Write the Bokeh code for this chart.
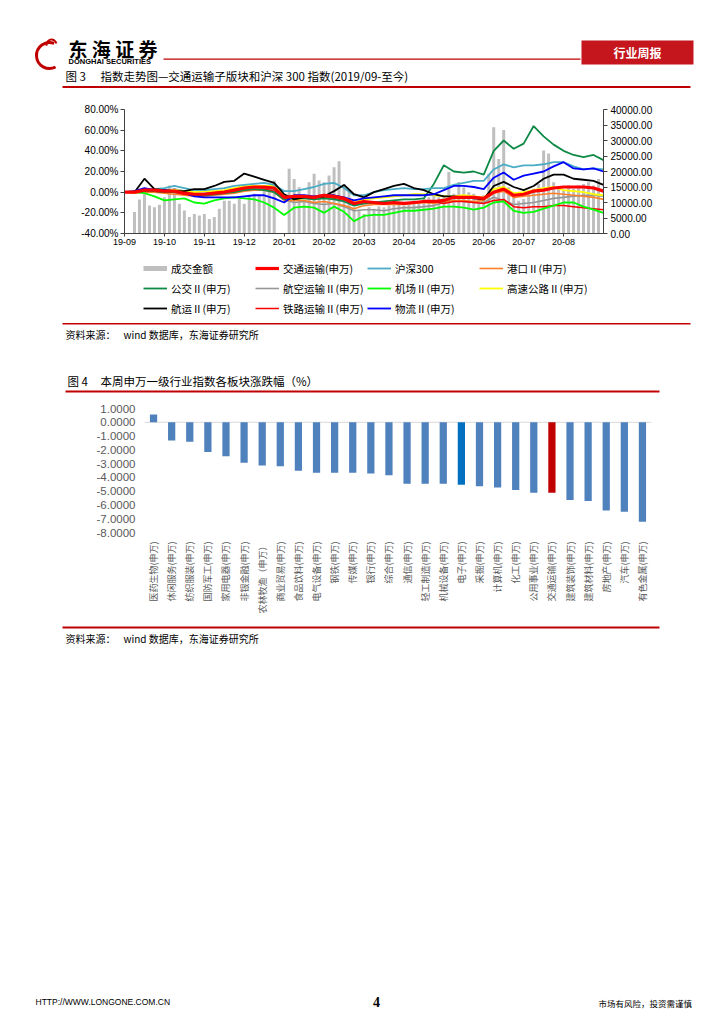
import math
import numpy as np
from bokeh.plotting import figure
from bokeh.models import (Range1d, LinearAxis, FixedTicker, PrintfTickFormatter, Legend,
                          LegendItem, Label, BoxAnnotation, Span, FactorRange, ColumnDataSource)
from bokeh.embed import file_html
from bokeh.resources import INLINE

# ------------------------------------------------------------------ data
month_labels = ["19-09", "19-10", "19-11", "19-12", "20-01", "20-02",
                "20-03", "20-04", "20-05", "20-06", "20-07", "20-08"]
# positions in months since 2019-09 (weekly-ish sampling)
line_x = [i / 4 for i in range(49)]
vol_x = [0.25 + i / 8 for i in range(94)]

turnover = [6900, 11000, 13000, 9000, 8500, 9300, 11700, 15500, 14700, 9600,
            7400, 5300, 6300, 5800, 6300, 4700, 5300, 8000, 10600, 10600,
            9600, 11200, 9600, 12300, 12800, 12300, 13900, 15500, 17100, 0,
            0, 20900, 17600, 14900, 10600, 16500, 19300, 17100, 16500, 18700,
            21400, 23300, 16000, 13900, 8500, 7400, 6300, 8500, 8000, 8700,
            8500, 9000, 9300, 9600, 9000, 10100, 10600, 10100, 11200, 11700,
            12800, 11700, 12300, 19800, 12800, 16600, 14900, 13300, 12800, 11700,
            12300, 19300, 34300, 24000, 33400, 14900, 13300, 10600, 11200, 12800,
            14400, 16000, 26800, 25800, 16500, 14900, 13900, 15500, 14400, 15500,
            16000, 16500, 15500, 17600]

s_jiaotong = [0, 0, 2, 2, 1, 1, -1, -2, -2, -1, 0, 2, 4, 5, 5, 4,
              -5, -4, -4, -5, -3, -4, -6, -11, -9, -10, -11, -10, -11, -10, -9, -9,
              -8, -5, -5, -5, -6, 0, 3, -3, -2, 1, 2, 4, 5, 5, 5, 4, 1]
s_hs300 = [0, 1, 3, 3, 4, 6, 4, 2, 2, 3, 4, 6, 7, 8, 9, 7,
           1, 1, 3, 5, 8, 9, 4, -3, -3, 0, 2, 3, 4, 3, 3, 4,
           4, 7, 9, 11, 11, 22, 27, 24, 26, 26, 27, 29, 29, 25, 22, 23, 22]
s_gangkou = [0, -1, 0, 0, -1, -2, -3, -4, -4, -3, -2, -1, 1, 2, 2, 0,
             -8, -8, -8, -10, -9, -11, -13, -16, -13, -12, -12, -12, -12, -11, -10, -11,
             -9, -8, -8, -9, -8, -1, 1, -5, -4, -3, -2, -1, -2, -3, -4, -5, -7]
s_gongjiao = [0, 0, 1, 1, 0, 0, -1, -3, -3, -2, -1, 0, 2, 3, 2, 0,
              -7, -6, -6, -7, -6, -7, -9, -13, -11, -10, -9, -8, -7, -7, -6, 8,
              26, 20, 19, 20, 17, 40, 50, 42, 47, 64, 54, 46, 40, 36, 34, 36, 31]
s_hangkong = [0, 0, 1, 1, 1, 3, 1, -1, -1, 0, 1, 3, 4, 5, 4, 2,
              -7, -10, -9, -11, -12, -11, -14, -18, -17, -17, -18, -16, -15, -15, -14, -13,
              -10, -8, -9, -10, -10, -5, -8, -12, -11, -10, -8, -6, -5, -4, -3, -3, -4]
s_jichang = [0, 0, -1, -4, -8, -7, -6, -10, -11, -8, -6, -5, -6, -7, -10, -15,
             -22, -15, -14, -15, -20, -14, -19, -28, -23, -22, -22, -20, -18, -18, -17, -16,
             -14, -14, -15, -17, -15, -10, -9, -18, -20, -19, -16, -13, -10, -10, -14, -17, -20]
s_gaosu = [0, 1, 2, 3, 2, 2, 1, 0, 1, 1, 2, 4, 6, 6, 6, 6,
           -3, -7, -6, -5, -4, -4, -6, -10, -7, -6, -5, -4, -3, -2, -2, -3,
           -4, -4, -3, -4, -5, 3, 5, -1, 0, 2, 4, 5, 2, 1, 0, -2, -3]
s_hangyun = [0, 0, 13, 3, 2, 1, 1, 3, 3, 6, 10, 11, 18, 15, 12, 9,
             -2, -7, -5, -5, -4, 1, 7, -2, -5, 0, 3, 6, 8, 4, 2, -2,
             -4, -4, -5, -6, -7, 6, 10, 5, 2, 6, 13, 17, 17, 13, 12, 11, 7]
s_tielu = [0, 0, 1, 1, 0, 0, -2, -3, -3, -2, -1, 1, 2, 3, 3, 1,
           -7, -5, -5, -6, -5, -6, -8, -12, -10, -10, -11, -10, -10, -10, -9, -9,
           -11, -9, -9, -10, -11, -8, -7, -14, -15, -14, -14, -13, -13, -14, -15, -16, -17]
s_wuliu = [0, 1, 4, 2, 2, 1, -1, -4, -5, -5, -5, -5, -4, -3, -3, -6,
           -10, -3, -3, -4, -3, -3, -5, -8, -6, -5, -4, -3, -3, -3, -3, -2,
           2, 6, 6, 5, 3, 14, 19, 12, 16, 18, 20, 25, 29, 23, 22, 23, 20]

industries = ["医药生物(申万)", "休闲服务(申万)", "纺织服装(申万)", "国防军工(申万)",
              "家用电器(申万)", "非银金融(申万)", "农林牧渔（申万）", "商业贸易(申万)",
              "食品饮料(申万)", "电气设备(申万)", "钢铁(申万)", "传媒(申万)", "银行(申万)",
              "综合(申万)", "通信(申万)", "轻工制造(申万)", "机械设备(申万)", "电子(申万)",
              "采掘(申万)", "计算机(申万)", "化工(申万)", "公用事业(申万)", "交通运输(申万)",
              "建筑装饰(申万)", "建筑材料(申万)", "房地产(申万)", "汽车(申万)", "有色金属(申万)"]
industry_change = [0.56, -1.33, -1.41, -2.16, -2.47, -2.93, -3.13, -3.20, -3.52, -3.66,
                   -3.66, -3.66, -3.71, -3.85, -4.46, -4.46, -4.46, -4.53, -4.65, -4.73,
                   -4.92, -5.12, -5.12, -5.65, -5.72, -6.40, -6.50, -7.22]

# ------------------------------------------------------------------ styling helpers
CJK = "Noto Sans CJK SC"
LAT = "Liberation Sans"
W = 724
RED = "#C00000"


def deco(h):
    return figure(width=W, height=h, x_range=Range1d(0, W), y_range=Range1d(0, h),
                  x_axis_type=None, y_axis_type=None, toolbar_location=None,
                  output_backend="svg", min_border=0, outline_line_color=None)


def txt(f, top, px, py, text, size, font=CJK, color="black", style="normal", align="left"):
    f.add_layout(Label(x=px, y=f.height - (py - top), text=text, text_font=font,
                       text_font_size=f"{size}px", text_color=color, text_font_style=style,
                       text_align=align, text_baseline="middle"))


def rule(f, top, x0, x1, y0, y1, color=RED):
    f.add_layout(BoxAnnotation(left=x0, right=x1, bottom=f.height - (y1 - top),
                               top=f.height - (y0 - top), fill_color=color, fill_alpha=1,
                               line_color=None))


# ------------------------------------------------------------------ header (page y 0..100)
T1 = 0
f1 = deco(100)
f1.arc(x=[49], y=[f1.height - 55], radius=13, start_angle=1.2, end_angle=5.2,
       line_color=RED, line_width=3)
f1.arc(x=[51], y=[f1.height - 44], radius=5, start_angle=0.2, end_angle=3.4,
       line_color=RED, line_width=2)
txt(f1, T1, 68, 48, "东 海 证 券", 19, style="bold")
txt(f1, T1, 68, 61, "DONGHAI SECURITIES", 7.5, font=LAT, style="bold")
rule(f1, T1, 163, 580, 58, 59.2)
rule(f1, T1, 581, 693, 40, 64, color="#C4161C")
txt(f1, T1, 637, 52, "行业周报", 12, color="white", style="bold", align="center")
txt(f1, T1, 65, 75, "图 3", 11.5)
txt(f1, T1, 100, 75, "指数走势图—交通运输子版块和沪深 300 指数(2019/09-至今)", 11.5)
rule(f1, T1, 62, 690, 85.5, 87.5)

# ------------------------------------------------------------------ chart 1 (page y 100..252)
p1 = figure(width=W, height=152, x_range=Range1d(0, 12), y_range=Range1d(-40, 80),
            toolbar_location=None, output_backend="svg",
            min_border_left=124, min_border_right=121, min_border_top=9, min_border_bottom=19)
p1.extra_y_ranges = {"vol": Range1d(0, 40000)}
p1.grid.visible = False
p1.outline_line_color = None

p1.vbar(x=vol_x, top=turnover, bottom=0, width=0.075, y_range_name="vol",
        fill_color="#BFBFBF", line_color=None)

series = [
    ("航空运输Ⅱ(申万)", s_hangkong, "#969696", 1.6),
    ("港口Ⅱ(申万)", s_gangkou, "#FF7F27", 1.6),
    ("高速公路Ⅱ(申万)", s_gaosu, "#FFFF00", 1.8),
    ("铁路运输Ⅱ(申万)", s_tielu, "#FF0000", 1.5),
    ("机场Ⅱ(申万)", s_jichang, "#00FF00", 1.8),
    ("公交Ⅱ(申万)", s_gongjiao, "#0E8A47", 1.8),
    ("沪深300", s_hs300, "#4BACC6", 1.8),
    ("航运Ⅱ(申万)", s_hangyun, "#000000", 1.8),
    ("物流Ⅱ(申万)", s_wuliu, "#0000FF", 1.8),
    ("交通运输(申万)", s_jiaotong, "#FF0000", 3.2),
]
style = {"成交金额": ("#BFBFBF", 5)}
for name, vals, col, lw in series:
    p1.line(line_x, vals, line_color=col, line_width=lw)
    style[name] = (col, lw)

ax_l = p1.yaxis[0]
ax_l.ticker = FixedTicker(ticks=list(range(-40, 81, 20)), minor_ticks=[])
ax_l.formatter = PrintfTickFormatter(format="%.2f%%")
ax_r = LinearAxis(y_range_name="vol",
                  ticker=FixedTicker(ticks=list(range(0, 40001, 5000)), minor_ticks=[]),
                  formatter=PrintfTickFormatter(format="%.2f"))
p1.add_layout(ax_r, "right")
ax_b = p1.xaxis[0]
ax_b.ticker = FixedTicker(ticks=list(range(12)), minor_ticks=[])
ax_b.major_label_overrides = {i: lab for i, lab in enumerate(month_labels)}

for ax in (ax_l, ax_r, ax_b):
    ax.axis_line_color = "#404040"
    ax.major_tick_line_color = "#404040"
    ax.major_tick_out = 4
    ax.major_tick_in = 0
    ax.minor_tick_out = 0
    ax.minor_tick_in = 0
    ax.major_label_text_font = LAT
    ax.major_label_text_color = "black"
    ax.major_label_text_font_size = "10px"
    ax.major_label_standoff = 2
ax_b.major_tick_out = 3
ax_b.major_label_text_font_size = "9px"
ax_r.major_label_standoff = 3

# ------------------------------------------------------------------ legend strip (page y 252..322)
legend_order = ["成交金额", "交通运输(申万)", "沪深300", "港口Ⅱ(申万)",
                "公交Ⅱ(申万)", "航空运输Ⅱ(申万)", "机场Ⅱ(申万)", "高速公路Ⅱ(申万)",
                "航运Ⅱ(申万)", "铁路运输Ⅱ(申万)", "物流Ⅱ(申万)"]
fl = figure(width=W, height=70, x_range=Range1d(0, 1), y_range=Range1d(0, 1),
            x_axis_type=None, y_axis_type=None, toolbar_location=None, output_backend="svg",
            min_border_left=143, min_border_top=6, min_border_right=0, min_border_bottom=0,
            outline_line_color=None)
items = []
for n in legend_order:
    col, lw = style[n]
    # legend-only key (no visible data)
    proxy = fl.line(x=np.array([np.nan]), y=np.array([np.nan]), line_color=col, line_width=lw)
    items.append(LegendItem(label=n, renderers=[proxy]))
legend = Legend(items=items, location="top_left", orientation="horizontal", ncols=4,
                glyph_width=24, glyph_height=20, label_height=20, label_width=84,
                label_standoff=4, spacing=0, padding=0, margin=0,
                border_line_color=None, background_fill_alpha=0,
                label_text_font=CJK, label_text_font_size="10.5px", label_text_color="black")
fl.add_layout(legend)

# ------------------------------------------------------------------ middle block (page y 322..400)
T3 = 322
f3 = deco(78)
rule(f3, T3, 62, 690, 322.5, 324)
txt(f3, T3, 65, 334, "资料来源：", 10)
txt(f3, T3, 123, 334, "wind 数据库，东海证券研究所", 10)
txt(f3, T3, 67, 380, "图 4", 11.5)
txt(f3, T3, 100, 380, "本周申万一级行业指数各板块涨跌幅（%）", 11.5)
rule(f3, T3, 65, 659, 390, 392)

# ------------------------------------------------------------------ chart 2 (page y 400..624)
p2 = figure(width=W, height=224, x_range=FactorRange(factors=industries),
            y_range=Range1d(-8, 1), toolbar_location=None, output_backend="svg",
            min_border_left=144, min_border_right=73, min_border_top=8, min_border_bottom=92)
p2.grid.visible = False
p2.outline_line_color = None
highlight = {"电子(申万)": "#0070C0", "交通运输(申万)": "#C00000"}
src = ColumnDataSource(dict(cat=industries, val=industry_change,
                            color=[highlight.get(n, "#4F81BD") for n in industries]))
p2.add_layout(Span(location=0, dimension="width", line_color="#D9D9D9", line_width=1,
                   level="underlay"))
p2.vbar(x="cat", top="val", bottom=0, width=0.4, fill_color="color", line_color=None, source=src)

ay = p2.yaxis[0]
ay.ticker = FixedTicker(ticks=list(range(-8, 2)), minor_ticks=[])
ay.formatter = PrintfTickFormatter(format="%.4f")
ay.axis_line_color = None
ay.major_tick_line_color = None
ay.minor_tick_line_color = None
ay.major_label_text_font = LAT
ay.major_label_text_font_size = "11.5px"
ay.major_label_text_color = "#595959"
ay.major_label_standoff = 3
ax2 = p2.xaxis[0]
ax2.axis_line_color = None
ax2.major_tick_line_color = None
ax2.major_tick_out = 0
ax2.major_label_orientation = math.pi / 2
ax2.major_label_standoff = 9
ax2.major_label_text_font = CJK
ax2.major_label_text_font_size = "9px"
ax2.major_label_text_color = "#595959"

# ------------------------------------------------------------------ bottom block (page y 624..1024)
T5 = 624
f5 = deco(400)
rule(f5, T5, 62, 659, 626, 628)
txt(f5, T5, 65, 638, "资料来源：", 10)
txt(f5, T5, 123, 638, "wind 数据库，东海证券研究所", 10)
txt(f5, T5, 35, 1001, "HTTP://WWW.LONGONE.COM.CN", 8.5, font=LAT)
txt(f5, T5, 376, 1001, "4", 14, font="Liberation Serif", style="bold", align="center")
txt(f5, T5, 598, 1002, "市场有风险，投资需谨慎", 8.5)

roots = [f1, p1, fl, f3, p2, f5]
open("out.html", "w").write(file_html(roots, INLINE, "东海证券 行业周报"))
